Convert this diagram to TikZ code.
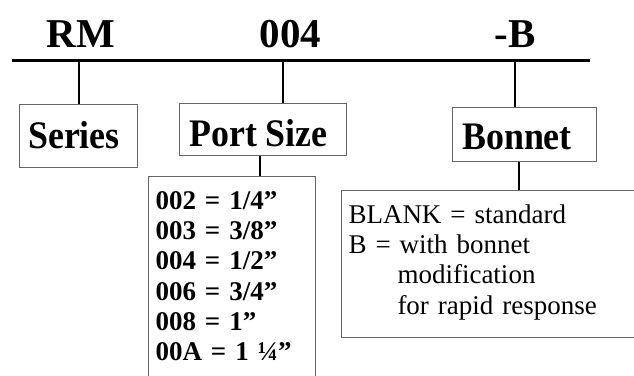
\documentclass[tikz,border=0pt]{standalone}
\usepackage{fontspec}
\setmainfont{Liberation Serif}
\newfontfamily\fieldfont[FakeStretch=0.92]{Liberation Serif}

\begin{document}
\begin{tikzpicture}[x=1pt, y=-1pt,
    code/.style={font=\bfseries\fontsize{41}{41}\selectfont, anchor=base, inner sep=0pt},
    fieldbox/.style={draw=gray!80!black, line width=1pt, inner sep=0pt, text depth=0pt, font=\fieldfont\bfseries\fontsize{39}{39}\selectfont},
    nudge/.style={execute at begin node={\hspace*{#1}}},
    listbox/.style={draw=gray!80!black, line width=1pt, anchor=north west, align=left, inner xsep=7pt},
    link/.style={line width=1.6pt}]
    \useasboundingbox (0,0) rectangle (634,375);
    \clip (0,0) rectangle (634,375);

    % Model code
    \node[code] (rm) at (81,47) {RM};
    \node[code] (size) at (290.5,47) {004};
    \node[code] (suffix) at (515,47) {-B};

    \coordinate (lineL) at (12,60);
    \coordinate (lineR) at (590,60);
    \coordinate (tapA) at (79,60);
    \coordinate (tapB) at (283,60);
    \coordinate (tapC) at (515,60);
    \draw[line width=3pt] (lineL) -- (lineR);

    % Fields
    \node[fieldbox, nudge=-8pt, minimum width=118pt, minimum height=63pt, text height=25pt] (seriesbox) at (78,135.5) {Series};
    \node[fieldbox, nudge=-8pt, minimum width=167pt, minimum height=52pt, text height=34pt] (portbox) at (262.5,129) {Port Size};
    \node[fieldbox, nudge=-14pt, minimum width=144pt, minimum height=54pt, text height=30pt] (bonnetbox) at (524,134) {Bonnet};

    % Options
    \node[listbox, inner ysep=15pt, text width=153pt, font=\bfseries\fontsize{27}{30.2}\selectfont] (portlist) at (148,176)
        {002 = 1/4”\\ 003 = 3/8”\\ 004 = 1/2”\\ 006 = 3/4”\\ 008 = 1”\\ 00A = 1 ¼”\strut};
    \node[listbox, inner ysep=14pt, text width=300pt, font=\fontsize{27}{30.3}\selectfont] (bonnetlist) at (341,190)
        {BLANK = standard\\ B = with bonnet\\ \hspace*{49pt}modification\\ \hspace*{49pt}for rapid response\strut};

    % Links
    \draw[link] (tapA) -- (tapA |- seriesbox.north);
    \draw[link] (tapB) -- (tapB |- portbox.north);
    \draw[link] (tapC) -- (tapC |- bonnetbox.north);
    \draw[link] ([xshift=-2.5pt]portbox.south) -- ([xshift=-2.5pt]portbox.south |- portlist.north);
    \draw[link] ([xshift=-5pt]bonnetbox.south) -- ([xshift=-5pt]bonnetbox.south |- bonnetlist.north);
\end{tikzpicture}
\end{document}
